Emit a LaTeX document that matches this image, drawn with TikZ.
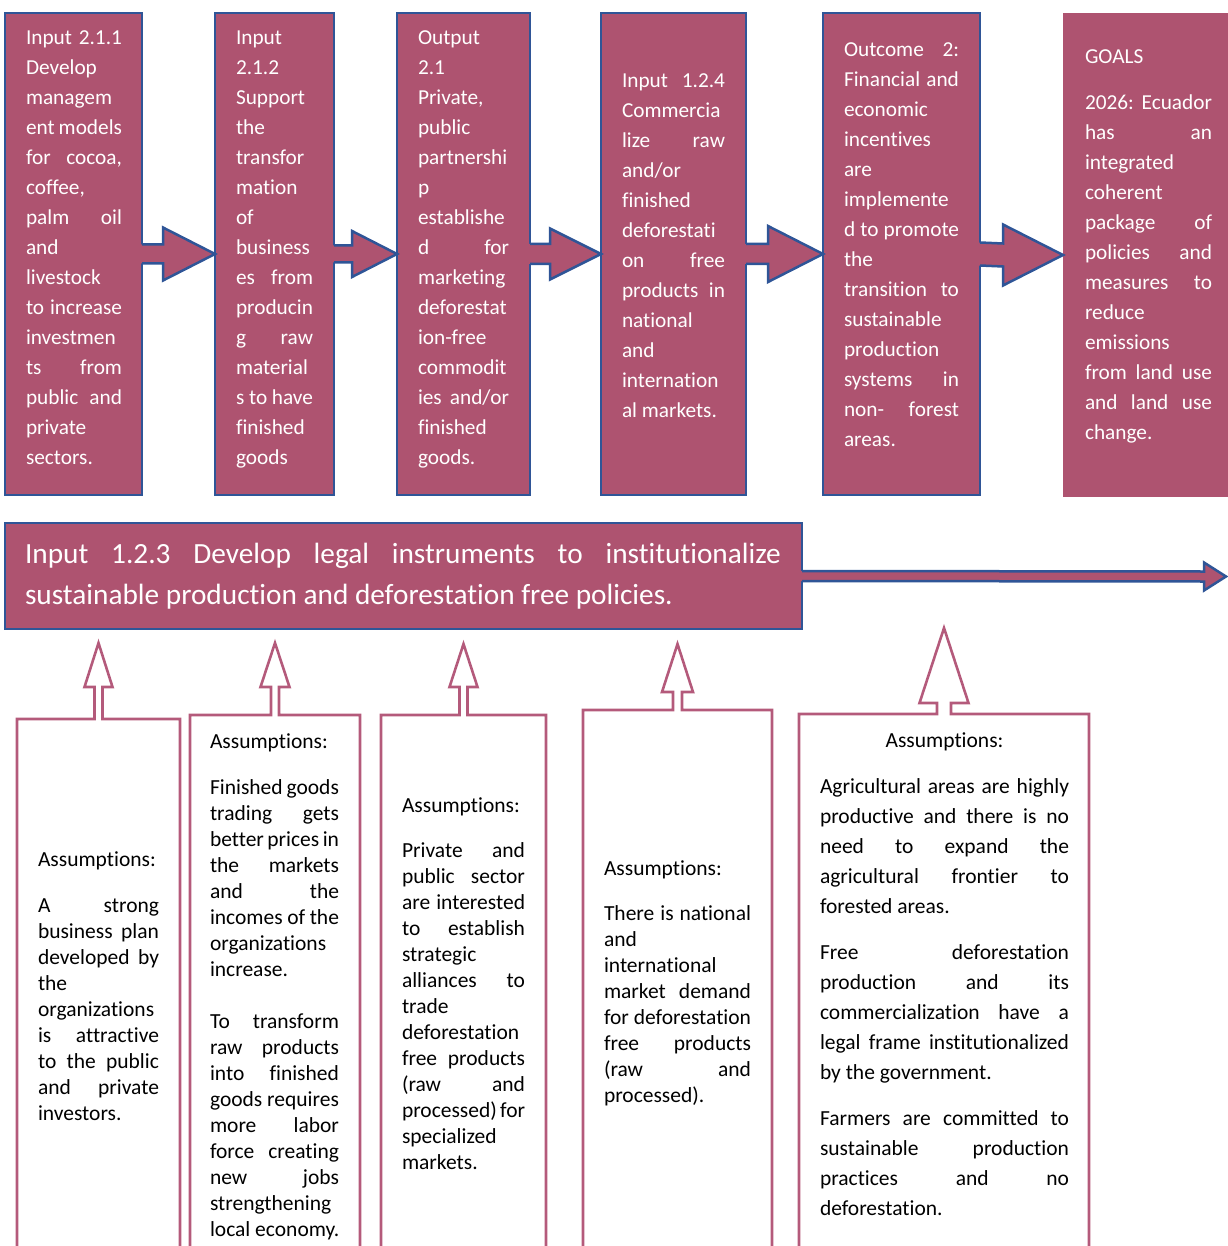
\documentclass[tikz,border=0pt]{standalone}
\usepackage{fontspec}
\setmainfont{Carlito}[Ligatures=CommonOff]
\usetikzlibrary{calc}

\definecolor{mauve}{HTML}{AE5370}
\definecolor{edgeblue}{HTML}{2F5597}
\definecolor{assumline}{HTML}{B45A7B}

% one printed line: spread to the column width, or set at natural width
\newcommand\jrow[1]{\hbox to\hsize{#1}}
\newcommand\lrow[1]{\hbox{#1}}
\newcommand\crow[1]{\hbox to\hsize{\hfil#1\hfil}}
% a column of lines with a given width and line pitch
\newcommand\boxlines[3]{\parbox[t]{#1}{\baselineskip=#2\relax\lineskiplimit=-100pt\relax #3}}

% block arrow from the east side of one box to the west side of the next
% #1 from, #2 to, #3 head length, #4 shaft half height, #5 head half height
\newcommand\flowarrow[5]{%
  \fill[mauve] ($(#1.east)+(-3,-#4)$) -- ($(#2.west)+(-#3,-#4)$) -- ($(#2.west)+(-#3,-#5)$)
     -- (#2.west) -- ($(#2.west)+(-#3,#5)$) -- ($(#2.west)+(-#3,#4)$) -- ($(#1.east)+(-3,#4)$) -- cycle;
  \draw[edge] ($(#1.east)+(0,-#4)$) -- ($(#2.west)+(-#3,-#4)$) -- ($(#2.west)+(-#3,-#5)$)
     -- (#2.west) -- ($(#2.west)+(-#3,#5)$) -- ($(#2.west)+(-#3,#4)$) -- ($(#1.east)+(0,#4)$);
}

% open assumption box whose top edge rises into a hollow up arrow
% #1 box, #2 shaft half width, #3 head half width, #4 head base above top, #5 tip above top
\newcommand\assumoutline[5]{%
  \draw[assumedge] (#1.south west) -- (#1.north west) -- ($(#1.north)+(-#2,0)$)
     -- ($(#1.north)+(-#2,-#4)$) -- ($(#1.north)+(-#3,-#4)$) -- ($(#1.north)+(0,-#5)$)
     -- ($(#1.north)+(#3,-#4)$) -- ($(#1.north)+(#2,-#4)$) -- ($(#1.north)+(#2,0)$)
     -- (#1.north east) -- (#1.south east);
}

\tikzset{
  stage/.style={rectangle, draw=edgeblue, fill=mauve, line width=2.5pt, inner sep=0pt, outer sep=0pt},
  goalbox/.style={rectangle, fill=mauve, inner sep=0pt, outer sep=0pt},
  edge/.style={draw=edgeblue, line width=2.5pt, line join=miter},
  assumarea/.style={rectangle, inner sep=0pt, outer sep=0pt},
  assumedge/.style={draw=assumline, line width=2.6pt, line join=miter},
  toptext/.style={anchor=base west, inner sep=0pt, outer sep=0pt, text=white,
                  font=\fontsize{21.3}{30}\selectfont},
  widetext/.style={anchor=base west, inner sep=0pt, outer sep=0pt, text=white,
                  font=\fontsize{29.3}{41}\selectfont},
  lowtext/.style={anchor=base west, inner sep=0pt, outer sep=0pt, text=black,
                  font=\fontsize{21.5}{26}\selectfont},
}

\begin{document}
\begin{tikzpicture}[x=1pt, y=-1pt]
\useasboundingbox (0,0) rectangle (1227,1246);

% ---------- chain of results ----------
\node[stage, minimum width=137pt, minimum height=482pt] (b1) at (73.5,254) {};
\node[stage, minimum width=119pt, minimum height=482pt] (b2) at (274.5,254) {};
\node[stage, minimum width=133pt, minimum height=482pt] (b3) at (463.5,254) {};
\node[stage, minimum width=145pt, minimum height=482pt] (b4) at (673.5,254) {};
\node[stage, minimum width=157pt, minimum height=482pt] (b5) at (901.5,254) {};
\node[goalbox, minimum width=170pt, minimum height=484pt] (b6) at (1148,255) {};

\flowarrow{b1}{b2}{52}{9.5}{26.5}
\flowarrow{b2}{b3}{45}{8.5}{23}
\flowarrow{b3}{b4}{51}{10}{25.5}
\flowarrow{b4}{b5}{55}{10}{28}
\flowarrow{b5}{b6}{60}{11.5}{30.5}

\node[toptext] (t1) at (26,45) {\boxlines{96pt}{30pt}{%
  \jrow{Input 2.1.1}\lrow{Develop}\lrow{managem}\jrow{ent models}\jrow{for cocoa,}%
  \lrow{coffee,}\jrow{palm oil}\lrow{and}\lrow{livestock}\jrow{to increase}%
  \lrow{investmen}\jrow{ts from}\jrow{public and}\lrow{private}\lrow{sectors.}}};

\node[toptext] (t2) at (236,45) {\boxlines{77pt}{30pt}{%
  \lrow{Input}\lrow{2.1.2}\lrow{Support}\lrow{the}\lrow{transfor}\lrow{mation}%
  \lrow{of}\lrow{business}\jrow{es from}\lrow{producin}\jrow{g raw}\lrow{material}%
  \jrow{s to have}\lrow{finished}\lrow{goods}}};

\node[toptext] (t3) at (418,45) {\boxlines{91pt}{30pt}{%
  \lrow{Output}\lrow{2.1}\lrow{Private,}\lrow{public}\lrow{partnershi}\lrow{p}%
  \lrow{establishe}\jrow{d for}\lrow{marketing}\lrow{deforestat}\lrow{ion-free}%
  \lrow{commodit}\jrow{ies and/or}\lrow{finished}\lrow{goods.}}};

\node[toptext] (t4) at (622,88) {\boxlines{103pt}{30pt}{%
  \jrow{Input 1.2.4}\lrow{Commercia}\jrow{lize raw}\lrow{and/or}\lrow{finished}%
  \lrow{deforestati}\jrow{on free}\jrow{products in}\lrow{national}\lrow{and}%
  \lrow{internation}\lrow{al markets.}}};

\node[toptext] (t5) at (844,57) {\boxlines{115pt}{30pt}{%
  \jrow{Outcome 2:}\jrow{Financial and}\lrow{economic}\lrow{incentives}\lrow{are}%
  \lrow{implemente}\jrow{d to promote}\lrow{the}\jrow{transition to}\lrow{sustainable}%
  \lrow{production}\jrow{systems in}\jrow{non- forest}\lrow{areas.}}};

\node[toptext] (t6) at (1085,64) {\boxlines{127pt}{30pt}{%
  \lrow{GOALS}\vskip16pt
  \jrow{2026: Ecuador}\jrow{has an}\lrow{integrated}\lrow{coherent}\jrow{package of}%
  \jrow{policies and}\jrow{measures to}\lrow{reduce}\lrow{emissions}%
  \jrow{from land use}\jrow{and land use}\lrow{change.}}};

% ---------- cross-cutting input ----------
\node[stage, minimum width=797pt, minimum height=106pt] (w) at (403.5,576) {};
\node[inner sep=0pt, outer sep=0pt, minimum size=0pt] (wend) at (1226,576.5) {};
\flowarrow{w}{wend}{22}{5}{14}
\node[widetext] (tw) at (25,563) {\boxlines{756pt}{41pt}{%
  \jrow{Input 1.2.3 Develop legal instruments to institutionalize}%
  \lrow{sustainable production and deforestation free policies.}}};

% ---------- assumptions ----------
\node[assumarea, minimum width=163pt, minimum height=551pt] (a1) at (98.5,994.5) {};
\node[assumarea, minimum width=170pt, minimum height=555pt] (a2) at (275,992.5) {};
\node[assumarea, minimum width=165pt, minimum height=555pt] (a3) at (463.5,992.5) {};
\node[assumarea, minimum width=189pt, minimum height=560pt] (a4) at (677.5,990) {};
\node[assumarea, minimum width=290pt, minimum height=556pt] (a5) at (944,992) {};

\assumoutline{a1}{4}{14}{32}{76}
\assumoutline{a2}{4}{14.5}{28}{72}
\assumoutline{a3}{4}{14}{28}{71}
\assumoutline{a4}{4.5}{15.5}{18}{66}
\assumoutline{a5}{7}{24.5}{11}{86}

\node[lowtext] (u1) at (38,866) {\boxlines{121pt}{26pt}{%
  \lrow{Assumptions:}\vskip20pt
  \jrow{A strong}\jrow{business plan}\jrow{developed by}\lrow{the}\lrow{organizations}%
  \jrow{is attractive}\jrow{to the public}\jrow{and private}\lrow{investors.}}};

\node[lowtext] (u2) at (210,748) {\boxlines{129pt}{26pt}{%
  \lrow{Assumptions:}\vskip20pt
  \jrow{Finished goods}\jrow{trading gets}\jrow{better prices in}\jrow{the markets}%
  \jrow{and the}\jrow{incomes of the}\lrow{organizations}\lrow{increase.}\vskip26pt
  \jrow{To transform}\jrow{raw products}\jrow{into finished}\jrow{goods requires}%
  \jrow{more labor}\jrow{force creating}\jrow{new jobs}\lrow{strengthening}%
  \lrow{local economy.}}};

\node[lowtext] (u3) at (402,812) {\boxlines{123pt}{26pt}{%
  \lrow{Assumptions:}\vskip19pt
  \jrow{Private and}\jrow{public sector}\jrow{are interested}\jrow{to establish}%
  \lrow{strategic}\jrow{alliances to}\lrow{trade}\lrow{deforestation}%
  \jrow{free products}\jrow{(raw and}\jrow{processed) for}\lrow{specialized}%
  \lrow{markets.}}};

\node[lowtext] (u4) at (604,875) {\boxlines{147pt}{26pt}{%
  \lrow{Assumptions:}\vskip19pt
  \jrow{There is national}\lrow{and}\lrow{international}\jrow{market demand}%
  \jrow{for deforestation}\jrow{free products}\jrow{(raw and}\lrow{processed).}}};

\node[lowtext] (u5) at (820,747) {\boxlines{249pt}{30pt}{%
  \crow{Assumptions:}\vskip16pt
  \jrow{Agricultural areas are highly}\jrow{productive and there is no}%
  \jrow{need to expand the}\jrow{agricultural frontier to}\lrow{forested areas.}\vskip16pt
  \jrow{Free deforestation}\jrow{production and its}\jrow{commercialization have a}%
  \jrow{legal frame institutionalized}\lrow{by the government.}\vskip16pt
  \jrow{Farmers are committed to}\jrow{sustainable production}\jrow{practices and no}%
  \lrow{deforestation.}}};

\end{tikzpicture}
\end{document}
